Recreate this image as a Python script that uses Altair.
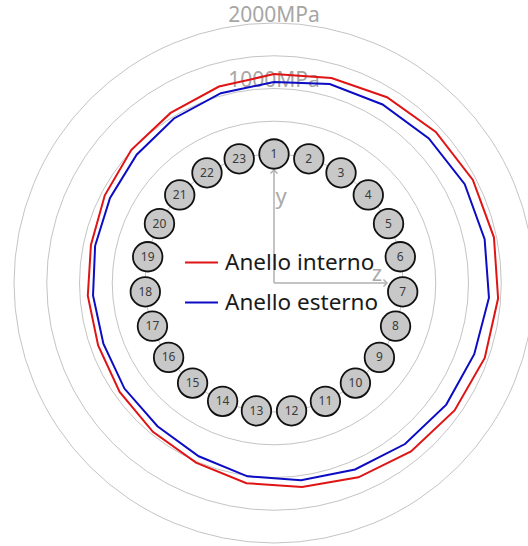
import altair as alt
import numpy as np
import pandas as pd

# ---------------- data ----------------
bars = list(range(1, 24))
interno = [1220, 1280, 1350, 1410, 1450, 1460, 1460, 1445, 1405, 1345, 1265, 1175,
           1115, 1020, 960, 915, 880, 880, 885, 940, 1010, 1070, 1145]
esterno = [1100, 1185, 1220, 1265, 1310, 1315, 1320, 1275, 1250, 1200, 1135, 1070,
           1010, 915, 850, 825, 795, 800, 820, 850, 900, 970, 1040]
series_names = ["Anello interno", "Anello esterno"]
grid_mpa = [0, 500, 1000, 1500, 2000]
grid_labels = ["", "", "1000MPa", "", "2000MPa"]
axis_names = ["y", "z"]

# ---------------- layout ----------------
R0 = 129.0     # radius of 0 MPa (ring of bars)
K = 0.0655     # radius units per MPa
AX_LEN = 113.0
N = len(bars)
ang = np.deg2rad(np.arange(N) * 360.0 / N)
FONT = "Noto Sans"


def rad(v):
    return R0 + K * np.asarray(v, dtype=float)


rows = []
for name, vals in zip(series_names, [interno, esterno]):
    r = rad(vals)
    for i in range(N + 1):
        j = i % N
        rows.append({"series": name, "ord": i,
                     "x": r[j] * np.sin(ang[j]), "y": r[j] * np.cos(ang[j])})
lines_df = pd.DataFrame(rows)

bars_df = pd.DataFrame({"bar": [str(b) for b in bars],
                        "x": R0 * np.sin(ang), "y": R0 * np.cos(ang)})

gr = rad(grid_mpa)
grid_df = pd.DataFrame({"mpa": grid_mpa, "label": grid_labels,
                        "cx": 0.0, "cy": 0.0, "r": gr, "size": (2 * gr) ** 2})

axis_df = pd.DataFrame({"name": axis_names,
                        "x0": [0.0, 0.0], "y0": [0.0, 0.0],
                        "x1": [0.0, AX_LEN], "y1": [AX_LEN, 0.0],
                        "lx": [7.0, 103.0], "ly": [86.0, 9.0]})

xs = alt.Scale(domain=[-274, 254], nice=False, zero=False)
ys = alt.Scale(domain=[-263, 283], nice=False, zero=False)


def X(f):
    return alt.X(f, type="quantitative", scale=xs, axis=None)


def Y(f):
    return alt.Y(f, type="quantitative", scale=ys, axis=None)


grid = alt.Chart(grid_df).mark_point(
    shape="circle", filled=False, stroke="#c4c4c4", strokeWidth=1, opacity=1
).encode(x=X("cx"), y=Y("cy"), size=alt.Size("size:Q", scale=None))

grid_text = alt.Chart(grid_df).transform_filter(alt.datum.label != "").mark_text(
    baseline="alphabetic", dy=-1.5, fontSize=21, font=FONT, color="#a6a6a6"
).encode(x=X("cx"), y=Y("r"), text="label:N")

lines = alt.Chart(lines_df).mark_line(strokeWidth=2).encode(
    x=X("x"), y=Y("y"), order="ord:Q",
    color=alt.Color("series:N",
                    scale=alt.Scale(domain=series_names, range=["#e01414", "#0c0cc4"]),
                    legend=alt.Legend(title=None, orient="none", legendX=184, legendY=245,
                                      symbolType="stroke", symbolSize=1089,
                                      symbolStrokeWidth=2, labelFontSize=22.5,
                                      labelFont=FONT, labelColor="#1a1a1a",
                                      labelOffset=6, rowPadding=11, padding=0,
                                      labelLimit=300)),
)

axes = alt.Chart(axis_df).mark_rule(color="#b0b0b0", strokeWidth=1.5).encode(
    x=X("x0"), y=Y("y0"), x2="x1", y2="y1")

head_up = alt.Chart(axis_df).transform_filter(alt.datum.name == "y").mark_point(
    shape="M-1,1L0,0L1,1", filled=False, stroke="#b0b0b0", strokeWidth=1.5,
    size=50, opacity=1).encode(x=X("x1"), y=Y("y1"))
head_right = alt.Chart(axis_df).transform_filter(alt.datum.name == "z").mark_point(
    shape="M-1,-1L0,0L-1,1", filled=False, stroke="#b0b0b0", strokeWidth=1.5,
    size=50, opacity=1).encode(x=X("x1"), y=Y("y1"))

axis_text = alt.Chart(axis_df).mark_text(
    fontSize=22, font=FONT, color="#aaaaaa"
).encode(x=X("lx"), y=Y("ly"), text="name:N")

bar_pts = alt.Chart(bars_df).mark_point(
    shape="circle", filled=True, fill="#c8c8c8", stroke="#111111",
    strokeWidth=1.8, size=870, opacity=1
).encode(x=X("x"), y=Y("y"))

bar_text = alt.Chart(bars_df).mark_text(
    fontSize=12, font=FONT, color="#3a3a3a"
).encode(x=X("x"), y=Y("y"), text="bar:N")

chart = alt.layer(grid, grid_text, lines, axes, head_up, head_right, axis_text,
                  bar_pts, bar_text).properties(
    width=528, height=546, padding=0, autosize=alt.AutoSizeParams(type="none"),
    background="white"
).configure_view(stroke=None)

chart.save("out.html", embed_options={"renderer": "svg", "actions": False})
